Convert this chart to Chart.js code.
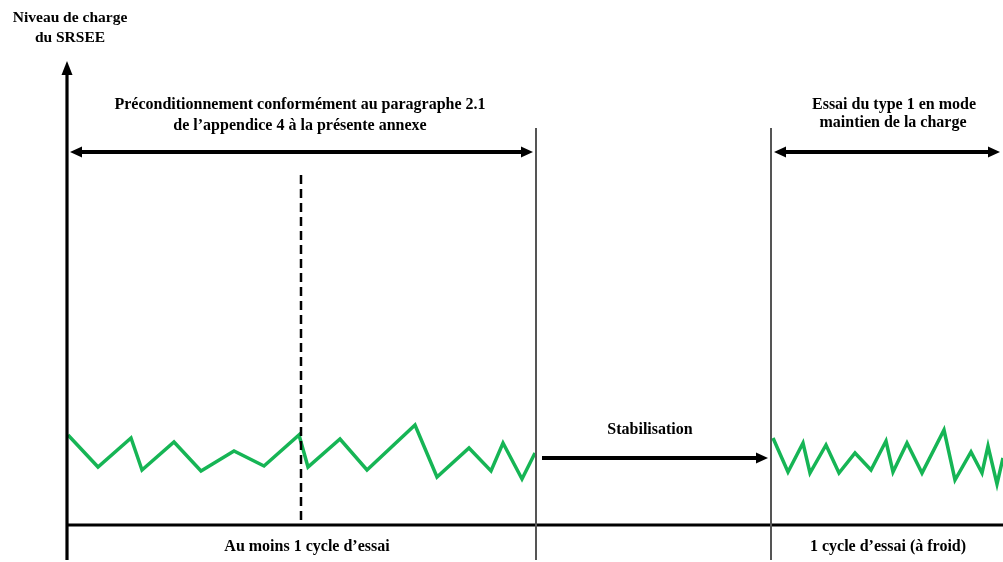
<!DOCTYPE html>
<html>
<head>
<meta charset="utf-8">
<script src="https://cdn.jsdelivr.net/npm/chart.js@4/dist/chart.umd.min.js"></script>
<style>
  body { margin: 0; background: #fff; }
  #wrap { width: 1003px; height: 562px; }
</style>
</head>
<body>
<div id="wrap"><canvas id="chart" width="1003" height="562"></canvas></div>
<script>
// temps (unités arbitraires) et niveau de charge du SRSEE
const preTime  = [1, 31, 64, 75, 107, 134, 167, 197, 232, 241, 273, 300, 348, 370, 402, 424, 436, 455, 468];
const preLevel = [90, 58, 87, 55, 83, 54, 74, 59, 90, 58, 86, 55, 100, 48, 77, 54, 82, 46, 72];

const testTime  = [706, 721, 736, 743, 759, 772, 788, 804, 819, 826, 840, 855, 877, 888, 904, 915, 921, 930, 936];
const testLevel = [87, 53, 82, 52, 80, 52, 72, 55, 84, 53, 82, 52, 95, 45, 73, 52, 79, 41, 67];

// limites des phases
const cycleMark = 234;   // fin du 1er cycle (trait pointillé)
const preEnd = 469;      // fin du préconditionnement
const testStart = 704;   // début de l'essai du type 1

const yLabel = ['Niveau de charge', 'du SRSEE'];
const preLabel = ['Préconditionnement conformément au paragraphe 2.1', 'de l\u2019appendice 4 à la présente annexe'];
const testLabel = ['Essai du type 1 en mode', 'maintien de la charge'];
const stabLabel = 'Stabilisation';
const preCycleLabel = 'Au moins 1 cycle d\u2019essai';
const testCycleLabel = '1 cycle d\u2019essai (à froid)';

const green = '#16b555';

function arrowHead(ctx, x, y, dir) {
  ctx.beginPath();
  if (dir === 'r') { ctx.moveTo(x, y); ctx.lineTo(x - 12, y - 5.5); ctx.lineTo(x - 12, y + 5.5); }
  if (dir === 'l') { ctx.moveTo(x, y); ctx.lineTo(x + 12, y - 5.5); ctx.lineTo(x + 12, y + 5.5); }
  if (dir === 'u') { ctx.moveTo(x, y); ctx.lineTo(x - 5.5, y + 14); ctx.lineTo(x + 5.5, y + 14); }
  ctx.closePath();
  ctx.fill();
}

const diagram = {
  id: 'diagram',
  afterDatasetsDraw(chart) {
    const ctx = chart.ctx;
    const xs = chart.scales.x, ys = chart.scales.y;
    const X = v => xs.getPixelForValue(v);
    const Y = v => ys.getPixelForValue(v);
    ctx.save();
    ctx.fillStyle = '#000';
    ctx.strokeStyle = '#000';

    // axe vertical
    ctx.lineWidth = 3.2;
    ctx.beginPath(); ctx.moveTo(X(0), Y(-35)); ctx.lineTo(X(0), Y(452)); ctx.stroke();
    arrowHead(ctx, X(0), Y(464), 'u');
    // axe horizontal
    ctx.beginPath(); ctx.moveTo(X(0), Y(0)); ctx.lineTo(X(936), Y(0)); ctx.stroke();

    // limites de phases
    ctx.strokeStyle = '#555';
    ctx.lineWidth = 2;
    [preEnd, testStart].forEach(t => {
      ctx.beginPath(); ctx.moveTo(X(t), Y(397)); ctx.lineTo(X(t), Y(-35)); ctx.stroke();
    });
    ctx.strokeStyle = '#000';
    ctx.lineWidth = 2.5;
    ctx.setLineDash([9, 5]);
    ctx.beginPath(); ctx.moveTo(X(cycleMark), Y(350)); ctx.lineTo(X(cycleMark), Y(0)); ctx.stroke();
    ctx.setLineDash([]);

    // flèches
    ctx.lineWidth = 3.8;
    const yArr = Y(373);
    ctx.beginPath(); ctx.moveTo(X(3) + 8, yArr); ctx.lineTo(X(466) - 8, yArr); ctx.stroke();
    arrowHead(ctx, X(3), yArr, 'l'); arrowHead(ctx, X(466), yArr, 'r');
    ctx.beginPath(); ctx.moveTo(X(707) + 8, yArr); ctx.lineTo(X(933) - 8, yArr); ctx.stroke();
    arrowHead(ctx, X(707), yArr, 'l'); arrowHead(ctx, X(933), yArr, 'r');
    const ySt = Y(67);
    ctx.beginPath(); ctx.moveTo(X(475), ySt); ctx.lineTo(X(692), ySt); ctx.stroke();
    arrowHead(ctx, X(701), ySt, 'r');

    // textes
    ctx.font = 'bold 16px "Liberation Serif", "Times New Roman", serif';
    ctx.textAlign = 'center';
    ctx.textBaseline = 'middle';
    ctx.fillText(preLabel[0], X(233), Y(420));
    ctx.fillText(preLabel[1], X(233), Y(399));
    ctx.fillText(testLabel[0], X(827), Y(420));
    ctx.fillText(testLabel[1], X(826), Y(402));
    ctx.fillText(stabLabel, X(583), Y(95));
    ctx.fillText(preCycleLabel, X(240), Y(-22));
    ctx.fillText(testCycleLabel, X(821), Y(-22));
    ctx.font = 'bold 15.5px "Liberation Serif", "Times New Roman", serif';
    ctx.fillText(yLabel[0], X(3), Y(507));
    ctx.fillText(yLabel[1], X(3), Y(487));
    ctx.restore();
  }
};

new Chart(document.getElementById('chart'), {
  type: 'line',
  data: {
    datasets: [
      { data: preTime.map((t, i) => ({ x: t, y: preLevel[i] })), borderColor: green, borderWidth: 3.5, pointRadius: 0, tension: 0 },
      { data: testTime.map((t, i) => ({ x: t, y: testLevel[i] })), borderColor: green, borderWidth: 3.5, pointRadius: 0, tension: 0 }
    ]
  },
  options: {
    responsive: false,
    animation: false,
    layout: { padding: { left: 67, top: 65, right: 0, bottom: 37 } },
    plugins: { legend: { display: false }, tooltip: { enabled: false } },
    scales: {
      x: { type: 'linear', min: 0, max: 936, display: false },
      y: { type: 'linear', min: 0, max: 460, display: false }
    }
  },
  plugins: [diagram]
});
</script>
</body>
</html>
